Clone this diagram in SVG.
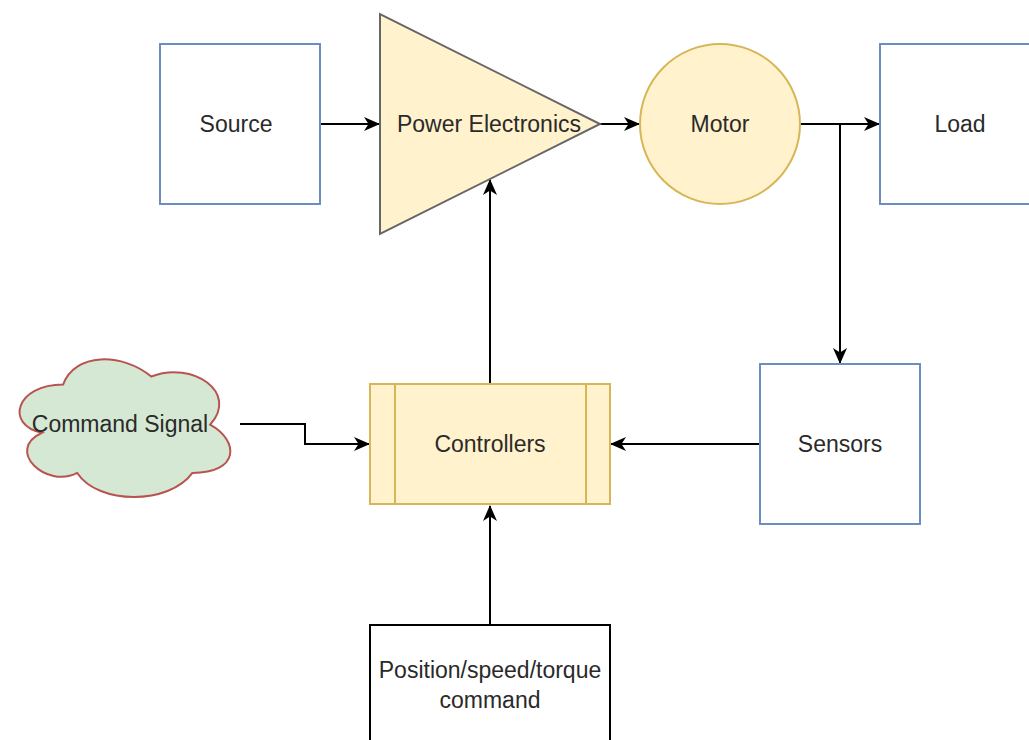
<svg xmlns="http://www.w3.org/2000/svg" width="1029" height="740" viewBox="0 0 1029 740">
  <defs>
    <marker id="arrow" viewBox="0 0 16 14" refX="15" refY="7" markerWidth="16" markerHeight="14" markerUnits="userSpaceOnUse" orient="auto">
      <path d="M0,0 L16,7 L0,14 L4.5,7 Z" fill="#000"/>
    </marker>
    <style>
      .lbl { font-family: "Liberation Sans", Arial, Helvetica, sans-serif; font-size: 23px; fill: #2a2a2a; text-anchor: middle; }
      .blue { fill: #ffffff; stroke: #6c8ebf; stroke-width: 2; }
      .yellow { fill: #fff2cc; stroke: #d6b656; stroke-width: 2; }
      .edge { fill: none; stroke: #000; stroke-width: 2; marker-end: url(#arrow); }
    </style>
  </defs>
  <rect width="1029" height="740" fill="#ffffff"/>

  <g id="connectors">
    <path class="edge" d="M320,124 L379,124"/>
    <path class="edge" d="M600,124 L639,124"/>
    <path class="edge" d="M800,124 L879,124"/>
    <path class="edge" d="M840,124 L840,363"/>
    <path class="edge" d="M760,444 L611,444"/>
    <path class="edge" d="M490,384 L490,180"/>
    <path class="edge" d="M490,625 L490,506"/>
    <path class="edge" d="M240,424 L305,424 L305,444 L369,444"/>
  </g>

  <g id="source">
    <rect class="blue" x="160" y="44" width="160" height="160"/>
    <text class="lbl" x="236" y="132">Source</text>
  </g>

  <g id="power-electronics">
    <polygon points="380,14 380,234 600,124" fill="#fff2cc" stroke="#666666" stroke-width="2"/>
    <text class="lbl" x="489" y="132">Power Electronics</text>
  </g>

  <g id="motor">
    <circle class="yellow" cx="720" cy="124" r="80"/>
    <text class="lbl" x="720" y="132">Motor</text>
  </g>

  <g id="load">
    <rect class="blue" x="880" y="44" width="160" height="160"/>
    <text class="lbl" x="960" y="132">Load</text>
  </g>

  <g id="sensors">
    <rect class="blue" x="760" y="364" width="160" height="160"/>
    <text class="lbl" x="840" y="452">Sensors</text>
  </g>

  <g id="controllers">
    <rect class="yellow" x="370" y="384" width="240" height="120"/>
    <line x1="395" y1="384" x2="395" y2="504" stroke="#d6b656" stroke-width="2"/>
    <line x1="586" y1="384" x2="586" y2="504" stroke="#d6b656" stroke-width="2"/>
    <text class="lbl" x="490" y="452">Controllers</text>
  </g>

  <g id="command-signal">
    <path transform="translate(15,357) scale(1.069,1.148) translate(-25,-368)" vector-effect="non-scaling-stroke" d="M70,392 C26,392 15,427 50.2,434 C15,449.4 54.6,483 83.2,469 C103,497 169,497 191,469 C235,469 235,441 207.5,427 C235,399 191,371 152.5,385 C125,364 81,364 70,392 Z" fill="#d5e8d4" stroke="#b85450" stroke-width="2"/>
    <text class="lbl" x="120" y="432">Command Signal</text>
  </g>

  <g id="position-command">
    <rect x="370" y="625" width="240" height="130" fill="#ffffff" stroke="#000" stroke-width="2"/>
    <text class="lbl" x="490" y="678">Position/speed/torque</text>
    <text class="lbl" x="490" y="708">command</text>
  </g>
</svg>
